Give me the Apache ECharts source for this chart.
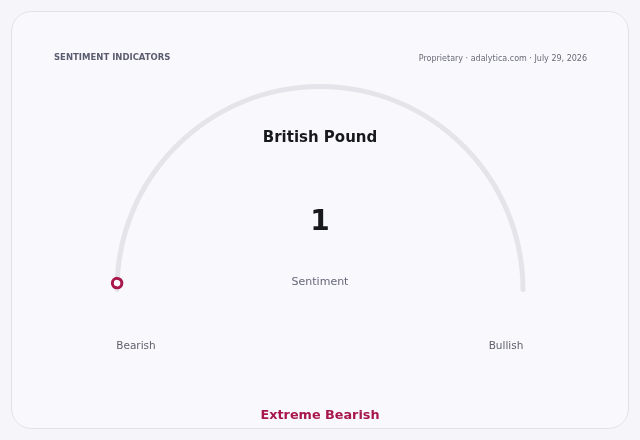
<!DOCTYPE html>
<html><head><meta charset="utf-8">
<script src="https://cdn.jsdelivr.net/npm/echarts@6/dist/echarts.min.js"></script>
<style>html,body{margin:0;padding:0;background:#f6f6fa;}#c{width:640px;height:440px;}</style>
</head><body><div id="c"></div>
<script>
const instrument = "British Pound";
const sentimentValue = 1;
const scaleMin = 0;
const scaleMax = 100;
const endLabels = ["Bearish", "Bullish"];
const valueLabel = "Sentiment";
const verdict = "Extreme Bearish";
const headerLeft = "SENTIMENT INDICATORS";
const headerRight = "Proprietary · adalytica.com · July 29, 2026";

const FONT = "DejaVu Sans";
const CRIMSON = "#a8174a";
const chart = echarts.init(document.getElementById('c'), null, {renderer: 'canvas'});
const cx = 320, cy = 289.5, R = 203;
chart.setOption({
  backgroundColor: '#f6f6fa',
  graphic: [
    {type: 'rect', z: -10, shape: {x: 11.5, y: 11.5, width: 617, height: 417, r: 20},
     style: {fill: '#f9f9fd', stroke: '#e1e1ea', lineWidth: 1}},
    {type: 'text', left: 54, top: 53.5, style: {text: headerLeft, font: 'bold 8.5px "DejaVu Sans"', fill: '#5c5c70'}},
    {type: 'text', right: 53, top: 54.5, style: {text: headerRight, font: '8px "DejaVu Sans"', fill: '#6a6a78'}},
    {type: 'text', x: 320, y: 138.5, style: {text: instrument, font: 'bold 15px "DejaVu Sans"', fill: '#18181f', align: 'center', verticalAlign: 'middle'}},
    {type: 'text', x: 136, y: 346.5, style: {text: endLabels[0], font: '10.5px "DejaVu Sans"', fill: '#5f5f6c', align: 'center', verticalAlign: 'middle'}},
    {type: 'text', x: 506, y: 346.5, style: {text: endLabels[1], font: '10.5px "DejaVu Sans"', fill: '#5f5f6c', align: 'center', verticalAlign: 'middle'}},
    {type: 'text', x: 320, y: 415.5, style: {text: verdict, font: 'bold 12.8px "DejaVu Sans"', fill: CRIMSON, align: 'center', verticalAlign: 'middle'}}
  ],
  series: [{
    type: 'gauge',
    center: [cx, cy],
    radius: R + 2.5,
    startAngle: 180,
    endAngle: 0,
    min: scaleMin,
    max: scaleMax,
    axisLine: {roundCap: true, lineStyle: {width: 5, color: [[1, '#e4e4ea']]}},
    splitLine: {show: false},
    axisTick: {show: false},
    axisLabel: {show: false},
    progress: {show: false},
    anchor: {show: false},
    pointer: {
      show: true,
      icon: 'circle',
      width: 9.5,
      length: 9.5,
      offsetCenter: [0, -(R - 4.75)],
      itemStyle: {color: '#ffffff', borderColor: CRIMSON, borderWidth: 3}
    },
    title: {show: true, offsetCenter: [0, -7], fontFamily: FONT, fontSize: 11, color: '#66667a'},
    detail: {show: true, offsetCenter: [0, -66.5], fontFamily: FONT, fontSize: 28, fontWeight: 'bold', color: '#18181f', valueAnimation: false},
    animation: false,
    data: [{value: sentimentValue, name: valueLabel}]
  }]
});
</script></body></html>
